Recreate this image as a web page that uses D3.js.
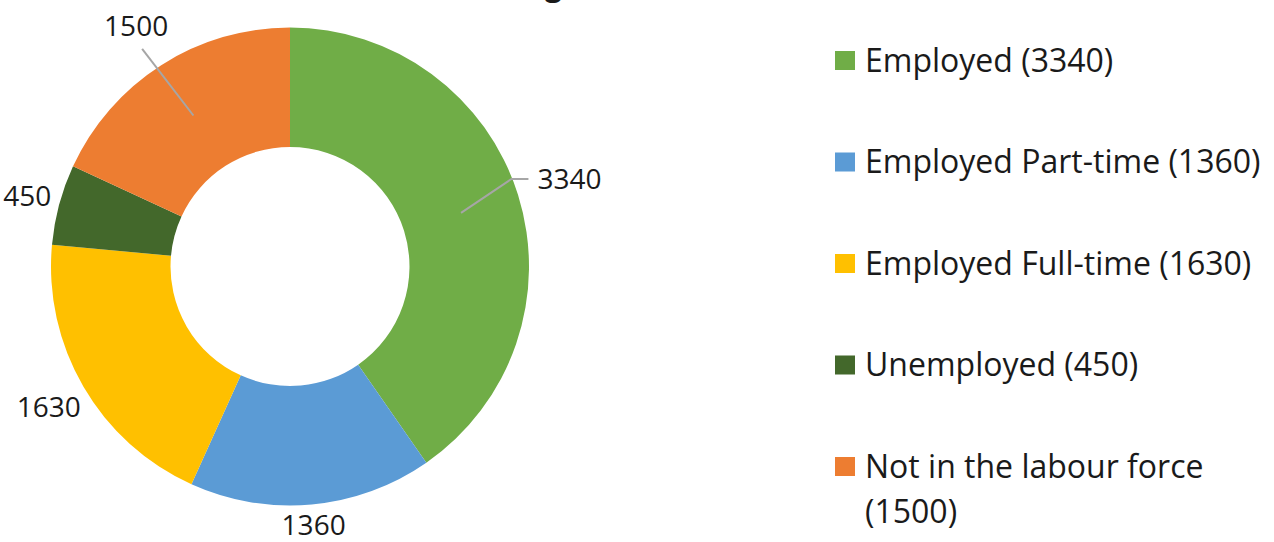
<!DOCTYPE html>
<head>
<meta charset="utf-8">
<title>Donut Chart</title>
<script type="text/javascript" src="https://d3js.org/d3.v7.min.js"></script>
<style>
  body { margin: 0; background: #fff; }
  text { font-family: "Open Sans", "Noto Sans", sans-serif; fill: #1a1a1a; }
</style>
</head>
<body>
<div id="container"></div>
<script>
//---------------------------DATA--------------------------------//
const categories = ["Employed", "Employed Part-time", "Employed Full-time", "Unemployed", "Not in the labour force"];
const values = [3340, 1360, 1630, 450, 1500];
const colours = ["#70AD47", "#5B9BD5", "#FFC000", "#43682B", "#ED7D31"];
// labels that Excel drew with a leader line
const leaderFor = ["Employed", "Not in the labour force"];
const titleText = "Labour Force Status of Working";

const data = categories.map(function(c, i) {
  return {name: c, value: values[i], colour: colours[i]};
});

//---------------------------SVG---------------------------------//
const width = 1274, height = 542;
const cx = 290, cy = 266.5;
const outerR = 239, innerR = 119.5;

const svg = d3.select("#container").append("svg")
    .attr("width", width)
    .attr("height", height);

// the title sits above the visible area, only the tail of its last letter shows
svg.append("text")
    .attr("x", 562)
    .attr("y", -4)
    .attr("text-anchor", "end")
    .style("font-weight", "bold")
    .style("font-size", "30px")
    .text(titleText);

const g = svg.append("g")
    .attr("transform", "translate(" + cx + "," + cy + ")");

const pie = d3.pie()
    .sort(null)
    .value(function(d) { return d.value; });

const arc = d3.arc()
    .innerRadius(innerR)
    .outerRadius(outerR);

const arcs = pie(data);

g.selectAll("path.slice")
    .data(arcs)
  .enter().append("path")
    .attr("class", "slice")
    .attr("d", arc)
    .attr("fill", function(d) { return d.data.colour; });

//-----------------------DATA LABELS-----------------------------//
// place each label just outside the ring, along the slice's mid angle
const labels = g.selectAll("text.value")
    .data(arcs)
  .enter().append("text")
    .attr("class", "value")
    .attr("text-anchor", "middle")
    .attr("dy", "0.35em")
    .style("font-size", "28px")
    .text(function(d) { return d.data.value; });

const lineGroup = g.insert("g", "text.value");

labels.each(function(d) {
  const hasLeader = leaderFor.indexOf(d.data.name) >= 0;
  const w = this.getComputedTextLength(), h = 22;
  const mid = (d.startAngle + d.endAngle) / 2;
  const s = Math.sin(mid), c = Math.cos(mid);
  const gap = hasLeader ? 20 : 7;
  const r = outerR + gap + Math.abs(s) * w / 2 + Math.abs(c) * h / 2;
  const x = s * r, y = -c * r;
  d3.select(this).attr("x", x).attr("y", y);

  if (hasLeader) {
    const start = arc.centroid(d);
    let pts;
    if (Math.abs(s) > 0.8) {
      const side = s > 0 ? 1 : -1;
      const edge = x - side * (w / 2 + 9);
      pts = [start, [edge - side * 17, y], [edge, y]];
    } else {
      const end = [x + 6, y + (c > 0 ? 1 : -1) * (h / 2 + 12)];
      pts = [start, end];
    }
    lineGroup.append("polyline")
        .attr("fill", "none")
        .attr("stroke", "#A6A6A6")
        .attr("stroke-width", 2)
        .attr("points", pts.map(function(p) { return p.join(","); }).join(" "));
  }
});

//--------------------------LEGEND-------------------------------//
const legend = svg.append("g")
    .attr("transform", "translate(835,0)");

const legendY = d3.scalePoint()
    .domain(categories)
    .range([60, 466]);

const items = legend.selectAll("g.item")
    .data(data)
  .enter().append("g")
    .attr("class", "item")
    .attr("transform", function(d) { return "translate(0," + legendY(d.name) + ")"; });

items.append("rect")
    .attr("x", 0)
    .attr("y", -9)
    .attr("width", 20)
    .attr("height", 19)
    .attr("fill", function(d) { return d.colour; });

items.append("text")
    .attr("x", 30)
    .attr("dy", "0.36em")
    .style("font-size", "32px")
    .each(function(d) {
      const label = d.name + " (" + d.value + ")";
      const t = d3.select(this);
      // long names wrap onto a second line like the original legend
      if (label.length > 26) {
        t.append("tspan").attr("x", 30).text(d.name);
        t.append("tspan").attr("x", 30).attr("dy", "1.42em").text("(" + d.value + ")");
      } else {
        t.text(label);
      }
    });
</script>
</body>
